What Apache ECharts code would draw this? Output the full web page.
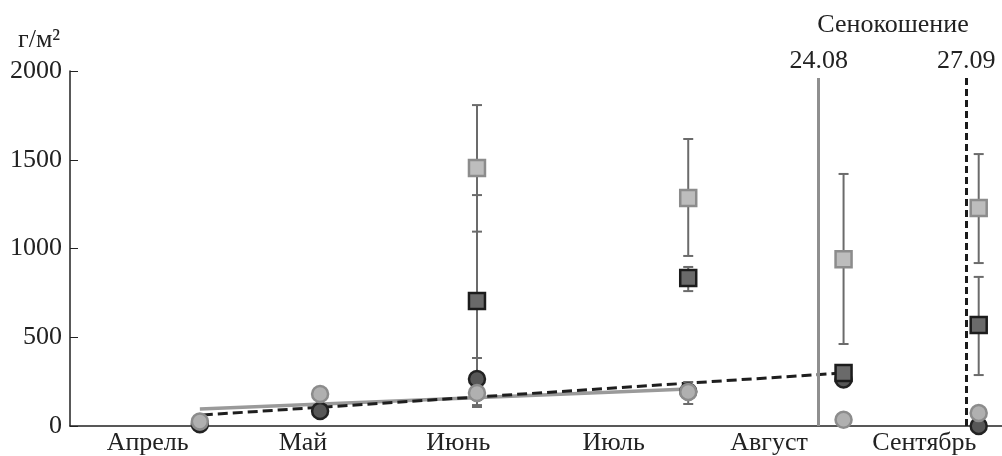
<!DOCTYPE html>
<html>
<head>
<meta charset="utf-8">
<script src="https://cdn.jsdelivr.net/npm/echarts@6/dist/echarts.min.js"></script>
<style>
  html, body { margin: 0; padding: 0; background: #fff; }
  #chart { width: 1002px; height: 456px; }
</style>
</head>
<body>
<div id="chart"></div>
<script>
// months on the category axis, data on a hidden value axis (month index, 0..6)
const months = ['Апрель', 'Май', 'Июнь', 'Июль', 'Август', 'Сентябрь'];
const yTicks = [0, 500, 1000, 1500, 2000];

// [month position, value]
const lightSquares = [[2.62, 1453], [3.98, 1284], [4.98, 940], [5.85, 1228]];
const darkSquares = [[2.62, 704], [3.98, 834], [4.98, 299], [5.85, 569]];
const lightCircles = [[0.836, 25], [1.61, 180], [2.62, 186], [3.98, 192], [4.98, 35], [5.85, 73]];
const darkCircles = [[0.836, 10], [1.61, 85], [2.62, 265], [3.98, 194], [4.98, 262], [5.85, 0]];

// [month position, low, high]
const errorBars = [
  [2.62, 1095, 1808], [2.62, 107, 1301], [2.62, 147, 383], [2.62, 118, 254],
  [3.98, 958, 1617], [3.98, 760, 896], [3.98, 124, 248],
  [4.98, 462, 1420],
  [5.85, 918, 1532], [5.85, 287, 840]
];

// trend lines
const trendSolid = [[0.836, 96], [3.98, 208]];
const trendDashed = [[0.855, 62], [4.98, 299]];

// mowing dates
const mowing = [
  { x: 4.82, label: '24.08' },
  { x: 5.77, label: '27.09' }
];
const mowTop = 1960;

const serif = '"Liberation Serif", "DejaVu Serif", serif';
const textColor = '#222';
const fs = 26;

const myChart = echarts.init(document.getElementById('chart'));

const errorSeries = {
  type: 'custom',
  xAxisIndex: 1,
  z: 3,
  data: errorBars,
  renderItem: (params, api) => {
    const x = api.value(0);
    const lo = api.coord([x, api.value(1)]);
    const hi = api.coord([x, api.value(2)]);
    const w = 5;
    const style = { stroke: '#6b6b6b', lineWidth: 2 };
    return {
      type: 'group',
      children: [
        { type: 'line', shape: { x1: lo[0], y1: lo[1], x2: hi[0], y2: hi[1] }, style },
        { type: 'line', shape: { x1: lo[0] - w, y1: lo[1], x2: lo[0] + w, y2: lo[1] }, style },
        { type: 'line', shape: { x1: hi[0] - w, y1: hi[1], x2: hi[0] + w, y2: hi[1] }, style }
      ]
    };
  }
};

const markerSeries = (data, symbol, fill, border, z) => ({
  type: 'scatter',
  xAxisIndex: 1,
  symbol: symbol,
  symbolSize: 16,
  z: z,
  data: data,
  itemStyle: { color: fill, borderColor: border, borderWidth: 2.5, opacity: 1 },
  emphasis: { disabled: true }
});

const option = {
  animation: false,
  backgroundColor: '#fff',
  grid: { left: 70, right: 0, top: 71, bottom: 30, containLabel: false },
  title: [
    { text: 'г/м²', left: 13, top: 22, textStyle: { fontFamily: serif, fontSize: fs, fontWeight: 'normal', color: textColor } },
    { text: 'Сенокошение', left: 888, top: 7, textAlign: 'center', textStyle: { fontFamily: serif, fontSize: fs, fontWeight: 'normal', color: textColor } }
  ],
  xAxis: [
    {
      type: 'category',
      data: months,
      boundaryGap: true,
      axisLine: { lineStyle: { color: '#222', width: 1.5 } },
      axisTick: { inside: true, length: 8, interval: 0, lineStyle: { color: '#222' } },
      axisLabel: { fontFamily: serif, fontSize: fs, color: textColor, margin: 4, interval: 0 },
      splitLine: { show: false }
    },
    {
      type: 'value',
      min: 0,
      max: 6,
      show: false
    }
  ],
  yAxis: {
    type: 'value',
    min: yTicks[0],
    max: yTicks[yTicks.length - 1],
    interval: 500,
    axisLine: { show: true, lineStyle: { color: '#222', width: 1.5 } },
    axisTick: { show: true, inside: true, length: 8, lineStyle: { color: '#222' } },
    axisLabel: { fontFamily: serif, fontSize: fs, color: textColor, margin: 8, formatter: (v) => String(v) },
    splitLine: { show: false }
  },
  series: [
    {
      type: 'line',
      xAxisIndex: 1,
      data: trendSolid,
      symbol: 'none',
      z: 2,
      lineStyle: { color: '#9a9a9a', width: 3.5, type: 'solid' },
      markLine: {
        silent: true,
        symbol: 'none',
        animation: false,
        data: mowing.map((m, i) => [
          {
            coord: [m.x, 0],
            lineStyle: i === 0
              ? { color: '#8f8f8f', width: 3, type: 'solid' }
              : { color: '#1a1a1a', width: 3, type: [7, 4] },
            label: { show: true, formatter: m.label, position: 'end', distance: 4, fontFamily: serif, fontSize: fs, color: textColor }
          },
          { coord: [m.x, mowTop] }
        ])
      }
    },
    {
      type: 'line',
      xAxisIndex: 1,
      data: trendDashed,
      symbol: 'none',
      z: 2,
      lineStyle: { color: '#1e1e1e', width: 3, type: [10, 5] }
    },
    errorSeries,
    markerSeries(darkCircles, 'circle', '#575757', '#222', 4),
    markerSeries(lightCircles, 'circle', '#b0b0b0', '#8c8c8c', 5),
    markerSeries(darkSquares, 'rect', '#6a6a6a', '#1c1c1c', 6),
    markerSeries(lightSquares, 'rect', '#bdbdbd', '#8c8c8c', 7)
  ]
};

myChart.setOption(option);
window.addEventListener('resize', () => {
  myChart.resize();
});
</script>
</body>
</html>
